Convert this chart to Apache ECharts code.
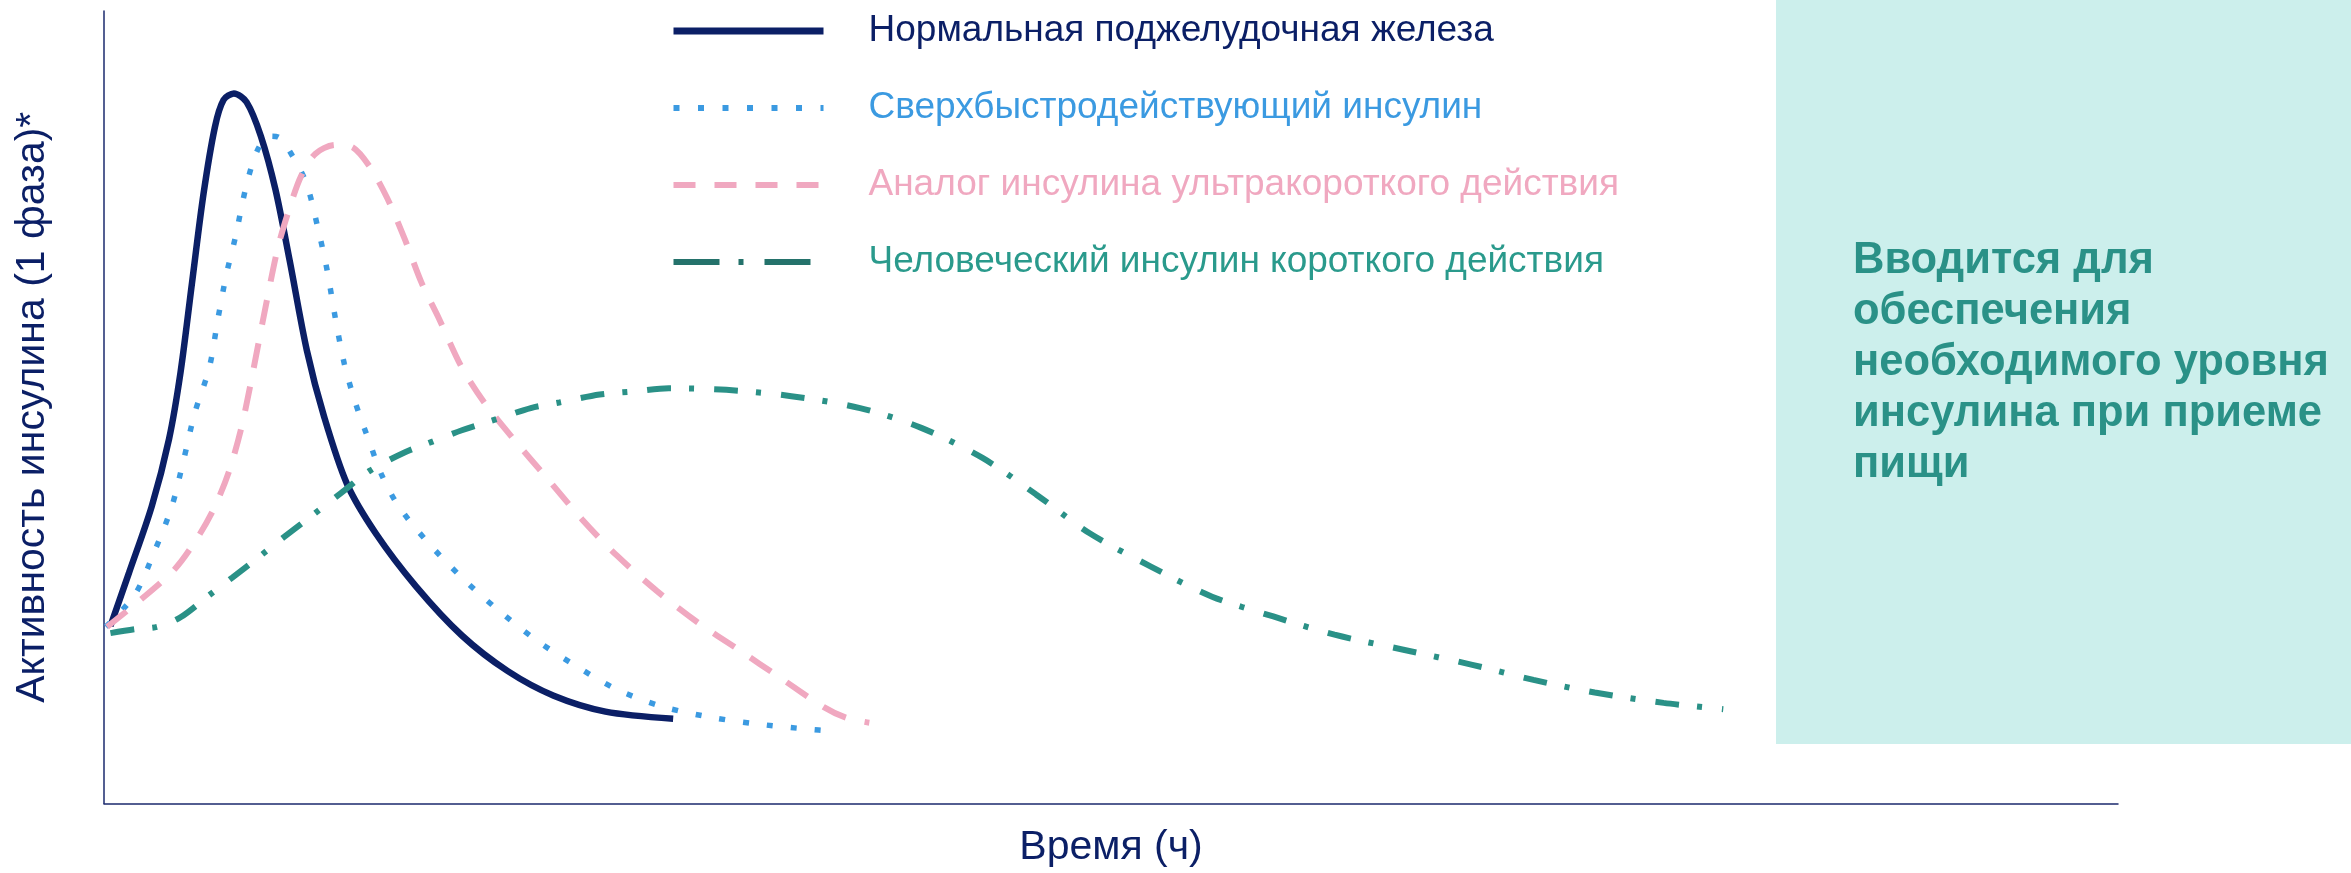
<!DOCTYPE html>
<html>
<head>
<meta charset="utf-8">
<script src="https://cdn.jsdelivr.net/npm/echarts/dist/echarts.min.js"></script>
<style>
  html, body { margin: 0; padding: 0; background: #fff; }
  #chart { width: 2351px; height: 873px; }
</style>
</head>
<body>
<div id="chart"></div>
<script>
// Активность инсулина (1 фаза) во времени, условные единицы

const seriesNames = [
    'Нормальная поджелудочная железа',
    'Сверхбыстродействующий инсулин',
    'Аналог инсулина ультракороткого действия',
    'Человеческий инсулин короткого действия'
];

// [время, активность]
const normalPancreas = [
    [0.32, 22.4], [1.24, 29.1], [2.37, 37.5], [3.23, 46.0], [3.80, 54.4], [4.37, 65.7],
    [4.94, 76.9], [5.51, 85.4], [5.94, 88.8], [6.45, 89.6], [7.08, 88.5], [7.79, 84.2],
    [8.51, 77.5], [9.22, 68.5], [10.07, 57.2], [10.93, 48.8], [12.07, 40.3], [13.49, 34.1],
    [15.49, 27.4], [17.77, 21.2], [20.05, 16.7], [22.33, 13.6], [24.9, 11.6], [28.26, 10.7]
];

const ultraFast = [
    [0.09, 22.3], [1.52, 26.3], [2.52, 31.9], [3.37, 37.5], [3.94, 43.2], [4.51, 49.3],
    [5.23, 55.0], [5.66, 61.2], [6.08, 66.8], [6.51, 71.3], [7.08, 78.1], [7.65, 82.6],
    [8.22, 84.2], [8.64, 84.1], [9.36, 81.7], [10.07, 78.1], [10.64, 72.4], [11.07, 67.4],
    [11.49, 61.2], [11.93, 55.5], [12.49, 50.5], [13.21, 45.4], [13.78, 41.5], [14.63, 37.5],
    [16.06, 33.0], [17.77, 28.5], [19.48, 24.6], [21.47, 20.6], [23.47, 17.3], [25.46, 14.4],
    [27.75, 12.2], [30.31, 10.8], [32.88, 9.9], [34.87, 9.4], [36.3, 9.1]
];

const rapidAnalog = [
    [0.15, 22.3], [1.81, 25.7], [3.52, 29.6], [4.66, 33.6], [5.51, 37.5], [6.22, 42.0],
    [6.79, 47.1], [7.22, 52.2], [7.65, 57.8], [8.08, 63.4], [8.64, 70.2], [9.22, 75.2],
    [9.79, 79.2], [10.5, 82.0], [11.49, 83.1], [12.35, 82.8], [13.21, 80.3], [14.06, 76.4],
    [14.92, 71.3], [15.77, 65.7], [16.63, 61.2], [17.77, 55.0], [18.91, 50.5], [20.33, 46.0],
    [22.05, 40.9], [23.75, 35.8], [25.46, 31.3], [27.46, 26.8], [29.45, 22.9], [31.45, 19.5],
    [33.73, 15.6], [35.72, 12.2], [36.87, 10.8], [38.0, 10.2]
];

const humanShort = [
    [0.32, 21.5], [1.52, 22.0], [2.66, 22.3], [3.80, 23.5], [5.23, 26.3], [6.37, 28.5],
    [7.79, 31.3], [8.93, 33.6], [10.36, 36.4], [11.78, 39.2], [13.21, 42.0], [14.92, 44.3],
    [16.34, 45.7], [17.77, 47.1], [19.48, 48.5], [21.19, 49.9], [22.61, 50.6], [24.61, 51.6],
    [26.32, 52.0], [28.05, 52.4], [30.9, 52.2], [34.13, 51.4], [37.54, 49.9], [40.58, 47.4],
    [43.62, 43.6], [46.28, 39.0], [48.94, 34.1], [51.98, 29.9], [55.02, 26.1], [58.06, 23.6],
    [61.1, 21.3], [64.52, 19.4], [67.94, 17.5], [70.98, 15.6], [74.02, 14.0], [77.44, 12.7],
    [80.4, 11.9]
];

const noteLines = [
    'Вводится для',
    'обеспечения',
    'необходимого уровня',
    'инсулина при приеме',
    'пищи'
];

const colors = ['#0b1f66', '#3b9ae1', '#f0a8c0', '#2a9187'];
const textColors = ['#0b1f66', '#3b9ae1', '#f0a8c0', '#2a9a8c'];
const FONT = 'Liberation Sans, Arial, sans-serif';

const chart = echarts.init(document.getElementById('chart'));

const lineSeries = (name, data, color, width, dash) => ({
    name: name,
    type: 'line',
    data: data,
    smooth: 0.3,
    symbol: 'none',
    lineStyle: { color: color, width: width, type: dash, cap: 'butt' },
    itemStyle: { color: color }
});

const option = {
    animation: false,
    grid: { left: 104, right: 233, top: 11, bottom: 69 },
    xAxis: {
        type: 'value',
        min: 0,
        max: 100,
        name: 'Время (ч)',
        nameLocation: 'middle',
        nameGap: 44,
        nameTextStyle: { color: '#0b1f66', fontSize: 41, fontFamily: FONT, verticalAlign: 'middle' },
        axisLine: { show: true, lineStyle: { color: '#1b2a6e', width: 1.5 } },
        axisTick: { show: false },
        axisLabel: { show: false },
        splitLine: { show: false }
    },
    yAxis: {
        type: 'value',
        min: 0,
        max: 100,
        name: 'Активность инсулина (1 фаза)*',
        nameLocation: 'middle',
        nameGap: 71,
        nameTextStyle: { color: '#0b1f66', fontSize: 41, fontFamily: FONT, verticalAlign: 'middle' },
        axisLine: { show: true, lineStyle: { color: '#1b2a6e', width: 1.5 } },
        axisTick: { show: false },
        axisLabel: { show: false },
        splitLine: { show: false }
    },
    legend: {
        orient: 'vertical',
        left: 670,
        top: 7,
        padding: 0,
        itemWidth: 150,
        itemHeight: 20,
        itemGap: 29,
        selectedMode: false,
        // only the line sample, no marker in the middle
        itemStyle: { opacity: 0, borderWidth: 0 },
        textStyle: { fontSize: 37, fontFamily: FONT, lineHeight: 40, padding: [0, 0, 8, 40] },
        data: [
            { name: seriesNames[0], lineStyle: { width: 7, type: 'solid' }, textStyle: { color: textColors[0] } },
            { name: seriesNames[1], lineStyle: { width: 6, type: [6, 18.5] }, textStyle: { color: textColors[1] } },
            { name: seriesNames[2], lineStyle: { width: 6, type: [22, 19] }, textStyle: { color: textColors[2] } },
            { name: seriesNames[3], lineStyle: { width: 6, type: [46, 19, 5, 21], color: '#24726b' }, textStyle: { color: textColors[3] } }
        ]
    },
    graphic: [
        {
            type: 'rect',
            z: -10,
            shape: { x: 1776, y: 0, width: 575, height: 744 },
            style: { fill: '#ccefec' }
        },
        {
            type: 'text',
            x: 1853,
            y: 235,
            style: {
                text: noteLines.join('\n'),
                font: 'bold 43.5px ' + FONT,
                lineHeight: 51,
                fill: '#2a9187'
            }
        }
    ],
    series: [
        lineSeries(seriesNames[0], normalPancreas, colors[0], 6.5, 'solid'),
        lineSeries(seriesNames[1], ultraFast, colors[1], 5.5, [6, 18]),
        lineSeries(seriesNames[2], rapidAnalog, colors[2], 6, [25, 19]),
        lineSeries(seriesNames[3], humanShort, colors[3], 6, [24, 18, 5, 20])
    ]
};

chart.setOption(option);
</script>
</body>
</html>
